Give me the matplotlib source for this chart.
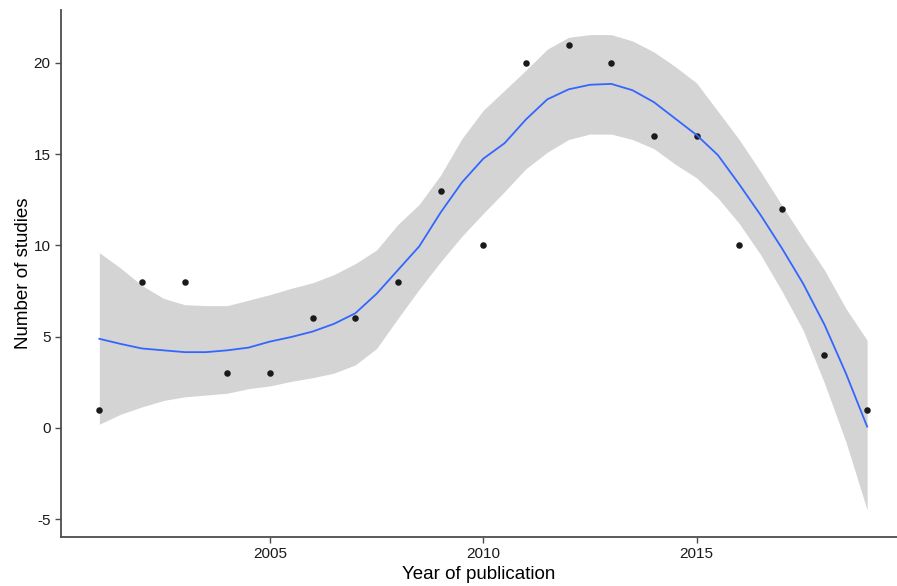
import numpy as np
import matplotlib
matplotlib.use("Agg")
import matplotlib.pyplot as plt

plt.rcParams["font.family"] = ["Liberation Sans", "DejaVu Sans"]
plt.rcParams["axes.unicode_minus"] = False

# observed counts per year
years = [2001, 2002, 2003, 2004, 2005, 2006, 2007, 2008, 2009, 2010,
         2011, 2012, 2013, 2014, 2015, 2016, 2017, 2018, 2019]
studies = [1, 8, 8, 3, 3, 6, 6, 8, 13, 10, 20, 21, 20, 16, 16, 10, 12, 4, 1]

# loess fit and its confidence band, every half year
fit_years = np.arange(2001, 2019.25, 0.5)
fit = [4.88, 4.6, 4.35, 4.25, 4.15, 4.15, 4.25, 4.4, 4.73, 4.98,
       5.28, 5.7, 6.28, 7.35, 8.65, 9.95, 11.8, 13.45, 14.75, 15.6,
       16.9, 18.0, 18.55, 18.8, 18.85, 18.5, 17.85, 16.95, 16.05, 14.95,
       13.35, 11.67, 9.85, 7.9, 5.65, 3.0, 0.07]
upper = [9.6, 8.75, 7.8, 7.1, 6.75, 6.7, 6.7, 7.0, 7.3, 7.65,
         7.95, 8.4, 9.0, 9.75, 11.15, 12.25, 13.85, 15.85, 17.4, 18.5,
         19.6, 20.75, 21.4, 21.55, 21.55, 21.2, 20.6, 19.8, 18.9, 17.35,
         15.8, 14.05, 12.2, 10.4, 8.65, 6.55, 4.8]
lower = [0.2, 0.75, 1.15, 1.5, 1.7, 1.8, 1.9, 2.15, 2.3, 2.55,
         2.75, 3.0, 3.45, 4.35, 6.0, 7.6, 9.1, 10.5, 11.75, 12.95,
         14.2, 15.1, 15.8, 16.1, 16.1, 15.8, 15.3, 14.45, 13.7, 12.6,
         11.2, 9.5, 7.5, 5.35, 2.45, -0.75, -4.5]

fig = plt.figure(figsize=(8.97, 5.86), dpi=100)
ax = fig.add_axes([0.068, 0.0836, 0.932, 0.8994])

ax.fill_between(fit_years, lower, upper, color="#D4D4D4", linewidth=0, zorder=1)
ax.scatter(years, studies, s=22, color="#1a1a1a", zorder=2, linewidths=0)
ax.plot(fit_years, fit, color="#3366FF", linewidth=1.3, zorder=3)

ax.set_xlim(2000.1, 2019.7)
ax.set_ylim(-5.98, 22.9)
ax.set_xticks([2005, 2010, 2015])
ax.set_yticks([-5, 0, 5, 10, 15, 20])

for side in ["top", "right"]:
    ax.spines[side].set_visible(False)
for side in ["left", "bottom"]:
    ax.spines[side].set_color("#4d4d4d")
    ax.spines[side].set_linewidth(1.3)
ax.tick_params(length=4, width=1, color="#4d4d4d", labelsize=11,
               labelcolor="#1a1a1a")

ax.set_xlabel("Year of publication", fontsize=13.5, labelpad=3)
ax.set_ylabel("Number of studies", fontsize=13.5, labelpad=1)

fig.savefig("out.png", dpi=100)
